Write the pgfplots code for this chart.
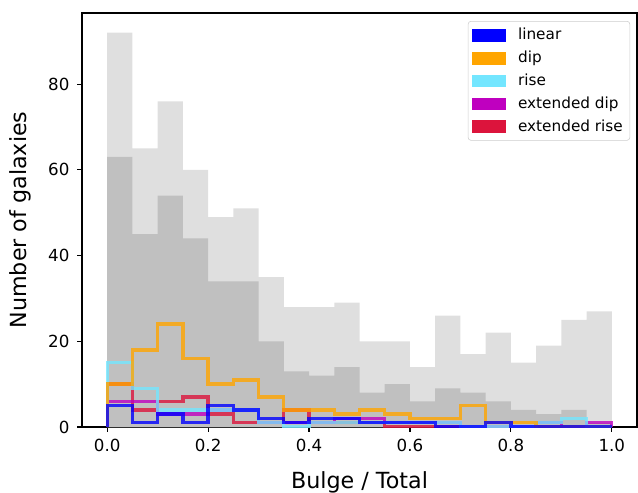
\documentclass[border=0pt]{standalone}
\usepackage{fontspec}
\setmainfont{DejaVu Sans}
\usepackage{pgfplots}
\usepackage{pgfplotstable}
\pgfplotsset{compat=1.18}

\definecolor{cLin}{RGB}{0,0,255}
\definecolor{cDip}{RGB}{255,165,0}
\definecolor{cRise}{RGB}{115,230,255}
\definecolor{cEDip}{RGB}{191,0,191}
\definecolor{cERise}{RGB}{220,20,60}
\definecolor{allgray}{RGB}{223,223,223}
\definecolor{subgray}{RGB}{192,192,192}
\definecolor{legframe}{RGB}{204,204,204}

% Histogram counts per 0.05-wide bin of Bulge/Total (left edges),
% padded with a zero row at each end so the steps close on the baseline.
\pgfplotstableread{
x     all  sub  lin  dip  rise  edip  erise
0.00  0    0    0    0    0     0     0
0.00  92   63   5    10   15    6     10
0.05  65   45   1    18   9     6     4
0.10  76   54   3    24   4     3     6
0.15  60   44   1    16   4     3     7
0.20  49   34   5    10   4     4     3
0.25  51   34   4    11   4     4     1
0.30  35   20   2    7    1     1     1
0.35  28   13   1    4    0     1     4
0.40  28   12   2    4    1     1     1
0.45  29   14   2    3    1     2     1
0.50  20   8    1    4    1     2     1
0.55  20   10   1    3    1     1     0
0.60  14   6    1    2    1     1     0
0.65  26   9    0    2    1     1     0
0.70  17   8    0    5    0     0     0
0.75  22   6    1    1    0     0     0
0.80  15   4    0    1    0     0     0
0.85  19   3    0    0    1     1     0
0.90  25   4    0    0    2     0     0
0.95  27   1    0    0    0     1     0
1.00  27   1    0    0    0     1     0
1.00  0    0    0    0    0     0     0
}\histdata

% solid legend swatch
\pgfplotsset{
  swatch/.style={legend image code/.code={%
    \fill[#1, sharp corners, fill opacity=1] (0pt,-4.2pt) rectangle (23.5pt,4.2pt);}},
}

\begin{document}
\begin{tikzpicture}
\begin{axis}[
  scale only axis,
  width=399.6pt, height=298.08pt,
  xmin=-0.05, xmax=1.05,
  ymin=0, ymax=96.6,
  xtick={0,0.2,0.4,0.6,0.8,1.0},
  ytick={0,20,40,60,80},
  xticklabel style={/pgf/number format/.cd, fixed, fixed zerofill, precision=1},
  /pgf/number format/assume math mode=true,
  tick label style={font=\fontsize{12}{14}\selectfont, text=black},
  tick align=outside,
  tick pos=left,
  major tick length=3.5pt,
  xticklabel shift=2pt,
  yticklabel shift=2pt,
  axis line style={line width=0.8pt},
  every tick/.style={black, line width=0.8pt},
  xlabel={Bulge / Total},
  ylabel={Number of galaxies},
  every axis x label/.style={at={(axis description cs:0.5,-0.133)}, anchor=center,
    font=\fontsize{16}{19}\selectfont},
  every axis y label/.style={at={(axis description cs:-0.111,0.5)}, rotate=90, anchor=center,
    font=\fontsize{16}{19}\selectfont},
  legend style={
    at={(rel axis cs:1,1)}, anchor=north east, xshift=-5pt, yshift=-5.8pt,
    font=\fontsize{11}{13}\selectfont,
    draw=legframe, rounded corners=2pt, fill=white,
    row sep=2.6pt, inner xsep=3pt, inner ysep=3pt,
    /tikz/every odd column/.append style={column sep=7pt},
  },
  legend cell align=left,
]
% legend swatches
\addlegendimage{swatch=cLin}
\addlegendentry{linear}
\addlegendimage{swatch=cDip}
\addlegendentry{dip}
\addlegendimage{swatch=cRise}
\addlegendentry{rise}
\addlegendimage{swatch=cEDip}
\addlegendentry{extended dip}
\addlegendimage{swatch=cERise}
\addlegendentry{extended rise}

% full sample and subsample, filled
\addplot[forget plot, const plot mark left, fill=allgray, draw=none] table[x=x, y=all] {\histdata} \closedcycle;
\addplot[forget plot, const plot mark left, fill=subgray, draw=none] table[x=x, y=sub] {\histdata} \closedcycle;

% class histograms as steps, last class drawn first
\addplot[forget plot, const plot mark left, draw=cERise, draw opacity=0.8, line width=2.4pt, line join=miter] table[x=x, y=erise] {\histdata};
\addplot[forget plot, const plot mark left, draw=cEDip, draw opacity=0.8, line width=2.4pt, line join=miter] table[x=x, y=edip] {\histdata};
\addplot[forget plot, const plot mark left, draw=cRise, draw opacity=0.8, line width=2.4pt, line join=miter] table[x=x, y=rise] {\histdata};
\addplot[forget plot, const plot mark left, draw=cDip, draw opacity=0.8, line width=2.4pt, line join=miter] table[x=x, y=dip] {\histdata};
\addplot[forget plot, const plot mark left, draw=cLin, draw opacity=0.8, line width=2.4pt, line join=miter] table[x=x, y=lin] {\histdata};
\end{axis}
\pgfresetboundingbox
\path[use as bounding box] (-59.04pt,-46.8pt) rectangle (400.32pt,307.44pt);
\end{tikzpicture}
\end{document}
